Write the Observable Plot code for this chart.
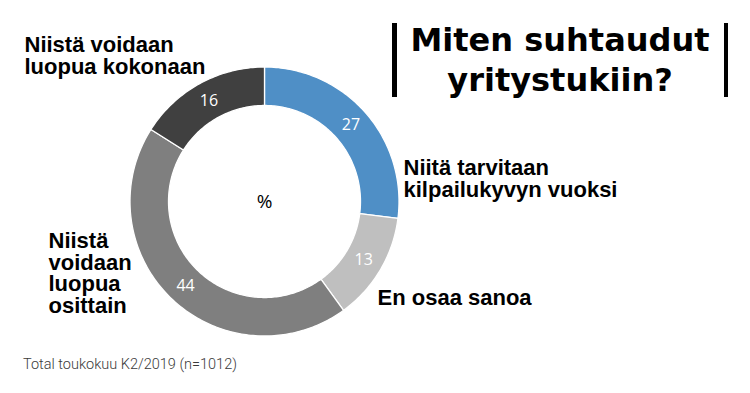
<!DOCTYPE html>
<html>
<head>
<meta charset="utf-8">
<script src="https://cdn.jsdelivr.net/npm/d3@7"></script>
<script src="https://cdn.jsdelivr.net/npm/@observablehq/plot@0.6"></script>
<style>
  html, body { margin: 0; padding: 0; background: #fff; }
  #wrap { position: relative; width: 750px; height: 393px; overflow: hidden; }
  #chart { position: absolute; left: 0; top: 0; }
  #chart g[aria-label="category-labels"] text { letter-spacing: 0.3px; }
  .bars { position: absolute; left: 392px; top: 23px; width: 327px; height: 74px;
          border-left: 5px solid #000; border-right: 4px solid #000; }
  .title { position: absolute; left: 392px; top: 20px; width: 336px; text-align: center;
           font-family: "DejaVu Sans", sans-serif; font-weight: bold; font-size: 32px;
           line-height: 40px; color: #000; }
  .foot { position: absolute; left: 23px; top: 356px; font-family: Roboto, sans-serif;
          font-weight: 300; font-size: 14.5px; color: #3a3a3a; white-space: nowrap; }
</style>
</head>
<body>
<div id="wrap">
  <div id="chart"></div>
  <div class="bars"></div>
  <div class="title" id="title"></div>
  <div class="foot" id="foot"></div>
</div>
<script>
// ---- data ----
const categories = [
  "Niitä tarvitaan kilpailukyvyn vuoksi",
  "En osaa sanoa",
  "Niistä voidaan luopua osittain",
  "Niistä voidaan luopua kokonaan"
];
const values = [27, 13, 44, 16];
const categoryLabels = [
  "Niitä tarvitaan\nkilpailukyvyn vuoksi",
  "En osaa sanoa",
  "Niistä\nvoidaan\nluopua\nosittain",
  "Niistä voidaan\nluopua kokonaan"
];
const centerText = "%";
const titleLines = ["Miten suhtaudut", "yritystukiin?"];
const footnote = "Total toukokuu K2/2019 (n=1012)";

// ---- styling / layout ----
const colors = ["#4f8fc6", "#bfbfbf", "#7f7f7f", "#404040"];
const W = 750, H = 393;
const cx = 264, cy = 201, R = 134.5, innerR = 96 / 134.5;
const labelPos = [ // pixel positions (left x, cap-top y)
  {px: 403, py: 159.5},
  {px: 377, py: 289.5},
  {px: 48,  py: 232.5},
  {px: 24,  py: 36.5}
];

// ---- build donut geometry from values ----
const total = d3.sum(values);
const ring = [];
const valueLabels = [];
let acc = 0;
categories.forEach((c, i) => {
  const a0 = acc / total * 2 * Math.PI;
  const a1 = (acc + values[i]) / total * 2 * Math.PI;
  acc += values[i];
  const n = Math.max(2, Math.ceil((a1 - a0) / (Math.PI / 180)));
  for (let k = 0; k <= n; k++) {
    const a = a0 + (a1 - a0) * k / n;
    ring.push({cat: c, x: Math.sin(a), y: Math.cos(a)});
  }
  for (let k = n; k >= 0; k--) {
    const a = a0 + (a1 - a0) * k / n;
    ring.push({cat: c, x: innerR * Math.sin(a), y: innerR * Math.cos(a)});
  }
  const am = (a0 + a1) / 2, rm = (1 + innerR) / 2;
  valueLabels.push({x: rm * Math.sin(am), y: rm * Math.cos(am), text: String(values[i])});
});

const catText = categories.map((c, i) => ({
  text: categoryLabels[i],
  x: (labelPos[i].px - cx) / R,
  y: (cy - labelPos[i].py) / R
}));

const chart = Plot.plot({
  width: W,
  height: H,
  margin: 0,
  x: {domain: [-cx / R, (W - cx) / R], axis: null},
  y: {domain: [-(H - cy) / R, cy / R], axis: null},
  color: {domain: categories, range: colors},
  marks: [
    Plot.line(ring, {x: "x", y: "y", z: "cat", fill: "cat", stroke: "white",
      strokeWidth: 1.3, curve: "linear-closed"}),
    Plot.text(valueLabels, {x: "x", y: "y", text: "text", fill: "white",
      fontSize: 16, fontFamily: "'Open Sans', sans-serif"}),
    Plot.text([{x: 0, y: 0, text: centerText}], {x: "x", y: "y", text: "text", fill: "#000",
      fontSize: 19, fontFamily: "'Open Sans', sans-serif"}),
    Plot.text(catText, {x: "x", y: "y", text: "text", textAnchor: "start", lineAnchor: "top",
      lineHeight: 0.98, fill: "#000", fontSize: 22, fontWeight: "bold",
      fontFamily: "'Liberation Sans', Arial, sans-serif", ariaLabel: "category-labels"})
  ]
});
document.getElementById("chart").appendChild(chart);
document.getElementById("title").innerHTML = titleLines.join("<br>");
document.getElementById("foot").textContent = footnote;
</script>
</body>
</html>
